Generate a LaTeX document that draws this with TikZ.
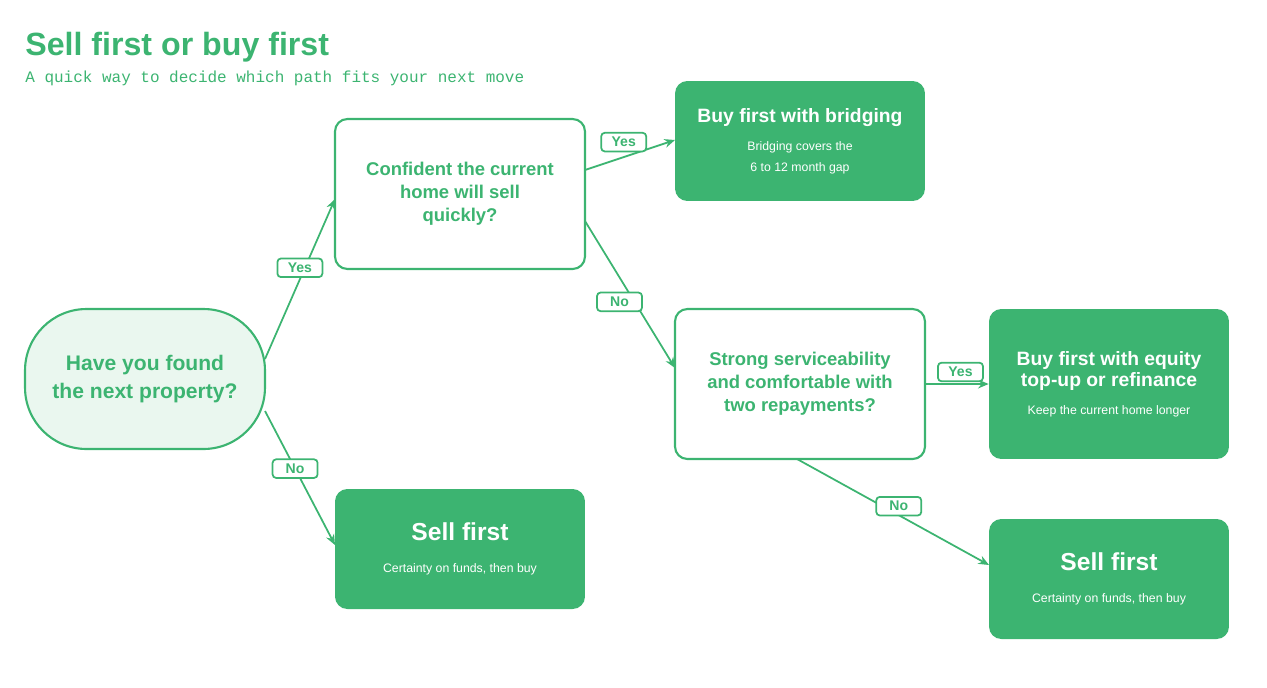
\documentclass[tikz,border=0pt]{standalone}
\usepackage{fontspec}
\setmainfont{Liberation Sans}
\setmonofont{Liberation Mono}
\usetikzlibrary{arrows.meta}
\definecolor{leaf}{RGB}{60,180,113}
\definecolor{mint}{RGB}{234,247,239}
\newcommand{\bigline}{\fontsize{11}{14}\selectfont\bfseries}
\newcommand{\sellline}{\fontsize{14}{17}\selectfont\bfseries}
\newcommand{\smallline}{\fontsize{7}{10}\selectfont\mdseries}
\tikzset{
  px/.style={x=0.02cm,y=-0.02cm},
  ask/.style={draw=leaf,line width=1.2pt,rounded corners=7pt,fill=white,text=leaf,
    font=\fontsize{10.5}{13}\selectfont\bfseries,align=center,
    minimum width=5cm,minimum height=3cm,inner sep=2pt},
  outcome/.style={fill=leaf,rounded corners=7pt,text=white,align=center,
    minimum width=5cm,minimum height=2.4cm,inner sep=2pt},
  tag/.style={draw=leaf,fill=white,rounded corners=2pt,text=leaf,
    font=\fontsize{8}{9}\selectfont\bfseries,inner sep=2.5pt,minimum width=0.9cm},
  link/.style={draw=leaf,line width=1pt,-{Stealth[length=6pt,width=5pt]}},
}
\begin{document}
\begin{tikzpicture}[px]
\useasboundingbox (0,0) rectangle (1267,687);
% Title
\node[anchor=base west,text=leaf,font=\fontsize{18.3}{20}\selectfont\bfseries,inner sep=0] (title) at (25,55) {Sell first or buy first};
\node[anchor=base west,text=leaf,font=\fontsize{9.1}{11}\selectfont\ttfamily,inner sep=0] (sub) at (25,82) {A quick way to decide which path fits your next move};
% Nodes
\node[ask,fill=mint,rounded corners=35pt,minimum width=4.8cm,minimum height=2.8cm,
  font=\fontsize{12}{16}\selectfont\bfseries] (found) at (145,379) {Have you found\\the next property?};
\node[ask] (quick) at (460,194) {Confident the current\\home will sell\\quickly?};
\node[ask] (serv) at (800,384) {Strong serviceability\\and comfortable with\\two repayments?};
\node[outcome] (bridge) at (800,141) {\bigline Buy first with bridging\\[4pt]\smallline Bridging covers the\\\smallline 6 to 12 month gap};
\node[outcome] (sellA) at (460,549) {\sellline Sell first\\[6pt]\smallline Certainty on funds, then buy};
\node[outcome,minimum width=4.8cm,minimum height=3cm] (equity) at (1109,384) {\bigline Buy first with equity\\\bigline top-up or refinance\\[4pt]\smallline Keep the current home longer};
\node[outcome,minimum width=4.8cm] (sellB) at (1109,579) {\sellline Sell first\\[6pt]\smallline Certainty on funds, then buy};
% Connector ends
\coordinate (f1) at (265,359); \coordinate (f2) at (265,411);
\coordinate (q1) at (585,170); \coordinate (q2) at (585,221);
\coordinate (s1) at (797,459);
\coordinate (qin) at (335,199); \coordinate (ain) at (335,545);
\coordinate (bin) at (675,140); \coordinate (vin) at (675,368);
\coordinate (sin) at (989,565);
% Connectors
\draw[link] (f1) -- (qin) node[tag,pos=0.57,xshift=-0.1cm] {Yes};
\draw[link] (f2) -- (ain) node[tag,pos=0.43] {No};
\draw[link] (q1) -- (bin) node[tag,pos=0.43,yshift=0.3cm] {Yes};
\draw[link] (q2) -- (vin) node[tag,pos=0.55,xshift=-0.3cm] {No};
\draw[link] (serv.east) -- (equity.west) node[tag,pos=0.55,yshift=0.24cm] {Yes};
\draw[link] (s1) -- (sin) node[tag,pos=0.53,yshift=0.18cm] {No};
\end{tikzpicture}
\end{document}
